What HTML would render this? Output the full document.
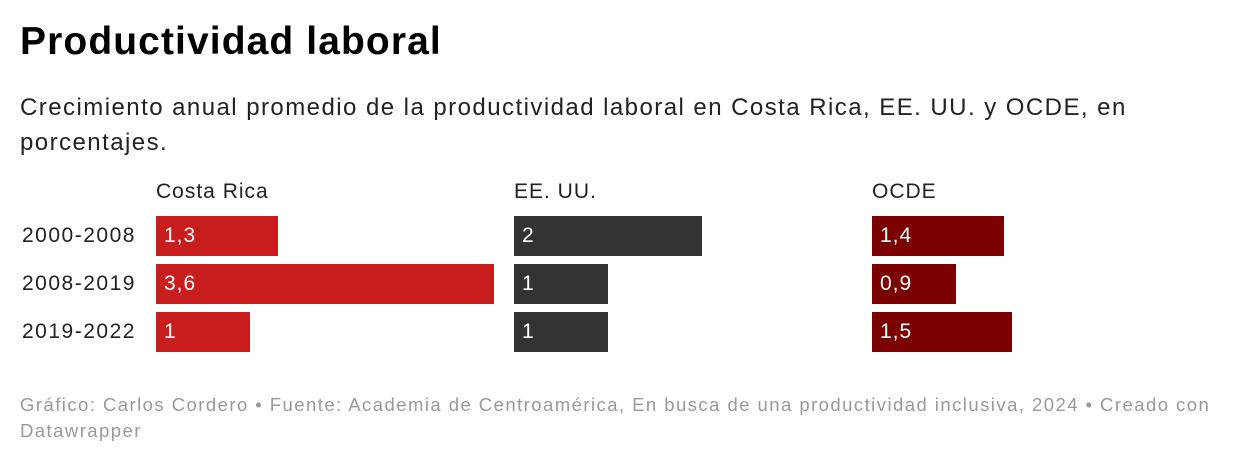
<!DOCTYPE html>
<html><head><meta charset="utf-8"><style>
body{margin:0;width:1240px;height:464px;background:#fff;font-family:"Liberation Sans",Arial,sans-serif;position:relative;overflow:hidden}
.a{position:absolute;white-space:nowrap}
.t{left:20px;top:20px;font-size:39px;font-weight:bold;color:#000;letter-spacing:1.1px}
.s{left:20px;top:90px;font-size:24px;line-height:35px;color:#222;white-space:normal;width:1180px;letter-spacing:1.45px}
.h{font-size:21px;color:#222;top:180px;letter-spacing:1px}
.l{font-size:21px;color:#222;left:22px;letter-spacing:1.5px}
.b{height:40px;color:#fff;font-size:21px;line-height:40px;padding-left:8px;box-sizing:border-box;letter-spacing:1px}
.f{left:20px;top:392px;font-size:18.5px;line-height:26px;color:#999;white-space:normal;width:1215px;letter-spacing:1.45px}
</style></head><body>
<div class="a t">Productividad laboral</div>
<div class="a s">Crecimiento anual promedio de la productividad laboral en Costa Rica, EE. UU. y OCDE, en porcentajes.</div>
<div class="a h" style="left:156px">Costa Rica</div>
<div class="a h" style="left:514px">EE. UU.</div>
<div class="a h" style="left:872px">OCDE</div>
<div class="a l" style="top:224px">2000-2008</div>
<div class="a l" style="top:272px">2008-2019</div>
<div class="a l" style="top:320px">2019-2022</div>
<div class="a b" style="left:156px;top:216px;width:122px;background:#c71e1d">1,3</div>
<div class="a b" style="left:156px;top:264px;width:338px;background:#c71e1d">3,6</div>
<div class="a b" style="left:156px;top:312px;width:94px;background:#c71e1d">1</div>
<div class="a b" style="left:514px;top:216px;width:188px;background:#333">2</div>
<div class="a b" style="left:514px;top:264px;width:94px;background:#333">1</div>
<div class="a b" style="left:514px;top:312px;width:94px;background:#333">1</div>
<div class="a b" style="left:872px;top:216px;width:132px;background:#7b0000">1,4</div>
<div class="a b" style="left:872px;top:264px;width:84px;background:#7b0000">0,9</div>
<div class="a b" style="left:872px;top:312px;width:140px;background:#7b0000">1,5</div>
<div class="a f">Gráfico: Carlos Cordero • Fuente: Academia de Centroamérica, En busca de una productividad inclusiva, 2024 • Creado con Datawrapper</div>
</body></html>
